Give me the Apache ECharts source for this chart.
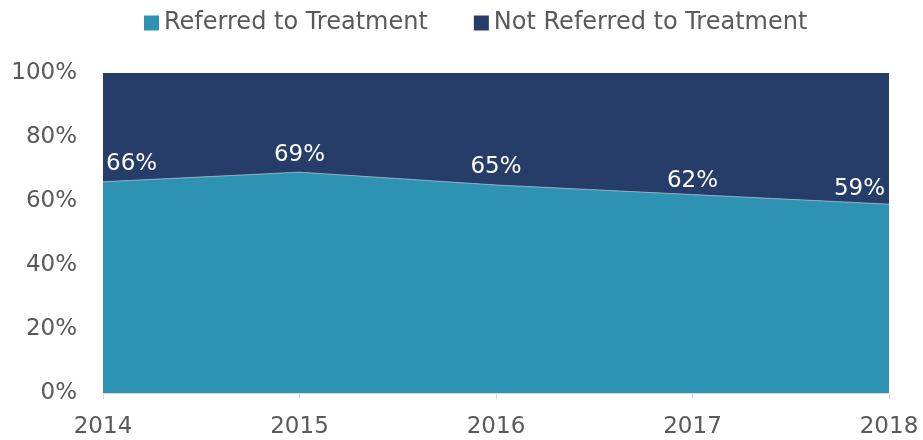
<!DOCTYPE html>
<html>
<head>
<meta charset="utf-8">
<script src="https://cdn.jsdelivr.net/npm/echarts@6/dist/echarts.min.js"></script>
<style>
  html, body { margin: 0; padding: 0; background: #fff; }
  #chart { width: 923px; height: 440px; }
</style>
</head>
<body>
<div id="chart"></div>
<script>
// data
const years = ['2014', '2015', '2016', '2017', '2018']
const referred = [66, 69, 65, 62, 59]
const notReferred = [34, 31, 35, 38, 41]

const teal = '#2E93B3'
const navy = '#263D69'
const textGray = '#595959'
const font = 'DejaVu Sans, sans-serif'

const chart = echarts.init(document.getElementById('chart'))

// first label pushed right, last pushed left so they stay inside the plot
const labelData = referred.map((v, i) => {
  const item = { value: v }
  if (i === 0) item.label = { align: 'left', offset: [3, 0] }
  if (i === referred.length - 1) item.label = { align: 'right', offset: [-4, 2] }
  if (i === 3) item.label = { offset: [0, 4] }
  return item
})

chart.setOption({
  animation: false,
  textStyle: { fontFamily: font },
  legend: {
    top: 6,
    left: 139,
    itemWidth: 15,
    itemHeight: 15,
    itemGap: 46,
    icon: 'rect',
    textStyle: { fontSize: 24, color: textGray, fontFamily: font },
    data: ['Referred to Treatment', 'Not Referred to Treatment']
  },
  grid: { left: 103, right: 34, top: 73, bottom: 47 },
  xAxis: {
    type: 'category',
    data: years,
    boundaryGap: false,
    axisLine: { lineStyle: { color: '#D9D9D9', width: 1 } },
    axisTick: { show: true, length: 6, lineStyle: { color: '#D9D9D9' } },
    axisLabel: { fontSize: 23, color: textGray, margin: 23, fontFamily: font }
  },
  yAxis: {
    type: 'value',
    min: 0,
    max: 100,
    interval: 20,
    axisLine: { show: false },
    axisTick: { show: false },
    splitLine: { show: false },
    axisLabel: { fontSize: 23, color: textGray, margin: 26, formatter: '{value}%', fontFamily: font }
  },
  series: [
    {
      name: 'Referred to Treatment',
      type: 'line',
      stack: 'total',
      data: labelData,
      symbol: 'circle',
      symbolSize: 0,
      showSymbol: true,
      lineStyle: { width: 1, color: '#8FA9C4' },
      itemStyle: { color: teal },
      areaStyle: { color: teal, opacity: 1 },
      label: {
        show: true,
        position: 'top',
        distance: 6,
        color: '#fff',
        fontSize: 23,
        fontFamily: font,
        formatter: '{c}%'
      },
      z: 3
    },
    {
      name: 'Not Referred to Treatment',
      type: 'line',
      stack: 'total',
      data: notReferred,
      symbol: 'none',
      lineStyle: { width: 0 },
      itemStyle: { color: navy },
      areaStyle: { color: navy, opacity: 1 },
      z: 2
    }
  ]
})
</script>
</body>
</html>
